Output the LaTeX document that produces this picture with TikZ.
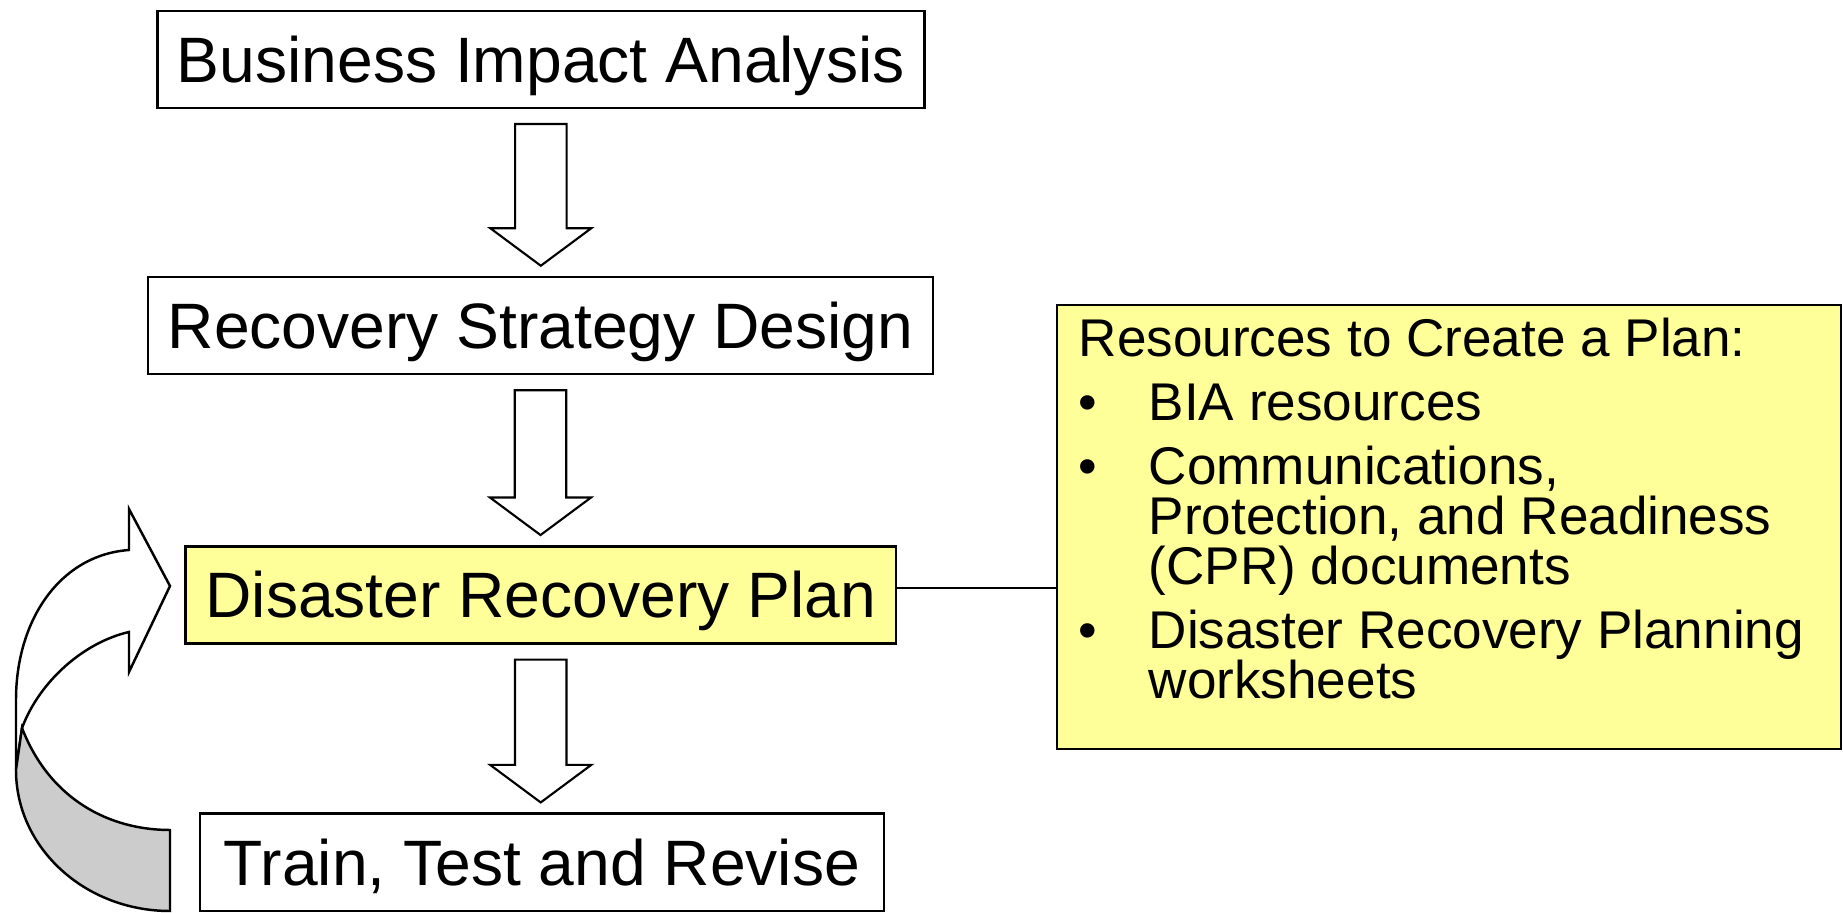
\documentclass[tikz,border=0pt]{standalone}
\usepackage{fontspec}
\setmainfont{Liberation Sans}
\usetikzlibrary{calc}

\definecolor{planyellow}{RGB}{255,255,153}
\definecolor{backgray}{RGB}{204,204,204}

\begin{document}
\begin{tikzpicture}[x=0.01cm, y=-0.01cm,
    stepbox/.style={draw=black, line width=0.7pt, fill=white, inner sep=0pt,
        minimum height=0.97cm, text height=13.1pt, text depth=0pt,
        font=\fontsize{18.25pt}{20pt}\selectfont},
    blockarrow/.style={draw=black, line width=0.6pt, fill=white, line join=miter}]
    \useasboundingbox (0,0) rectangle (1843,913);

    % loop back arrow
    \filldraw[fill=white, line width=0.7pt, line join=miter] (16,770) -- (16,700)
        .. controls (16,620) and (60,555) .. (129,550) -- (129,509) -- (170,586)
        -- (129,672) -- (129,632) .. controls (85,642) and (40,680) .. (22,728) -- cycle;
    \filldraw[fill=backgray, line width=0.7pt] (22,728) .. controls (50,800) and (110,830) .. (170,830)
        -- (170,911) .. controls (85,911) and (16,848) .. (16,770) -- cycle;

    \node[stepbox, minimum width=7.665cm] (bia) at (540.8,59.3) {Business Impact Analysis};
    \node[stepbox, minimum width=7.85cm] (rsd) at (540.5,325.5) {Recovery Strategy Design};
    \node[stepbox, fill=planyellow, minimum width=7.10cm] (drp) at (540.7,594.8) {Disaster Recovery Plan};
    \node[stepbox, minimum width=6.84cm] (ttr) at (542,862.2) {Train, Test and Revise};

    \node[draw=black, line width=0.7pt, fill=planyellow, inner sep=0pt, anchor=north west] (res) at (1055.5,304)
        {\begin{minipage}[t][4.435cm][t]{7.84cm}
        \fontsize{15.1pt}{14.2pt}\selectfont\lineskiplimit=-20pt
        \vspace*{0.13cm}
        \leftskip=0.22cm
        Resources to Create a Plan:\\[0.14cm]
        \makebox[0.7cm][l]{•}BIA resources\\[0.14cm]
        \makebox[0.7cm][l]{•}Communications,\\
        \hspace*{0.7cm}Protection, and Readiness\\
        \hspace*{0.7cm}(CPR) documents\\[0.14cm]
        \makebox[0.7cm][l]{•}Disaster Recovery Planning\\
        \hspace*{0.7cm}worksheets
        \end{minipage}};

    \draw[line width=0.6pt] ([yshift=0.07cm]drp.east) -- ([yshift=0.07cm]drp.east -| res.west);

    % block arrows between the steps
    \foreach \from/\to in {bia/rsd, rsd/drp, drp/ttr} {
        \coordinate (top) at ($(\from.south)+(0,15)$);
        \coordinate (tip) at ($(top |- \to.north)+(0,-10)$);
        \draw[blockarrow] ($(top)+(-25.75,0)$) -- ($(top)+(25.75,0)$)
            -- ($(tip)+(25.75,-37.5)$) -- ($(tip)+(50.5,-37.5)$) -- (tip)
            -- ($(tip)+(-50.5,-37.5)$) -- ($(tip)+(-25.75,-37.5)$) -- cycle;
    }
\end{tikzpicture}
\end{document}
